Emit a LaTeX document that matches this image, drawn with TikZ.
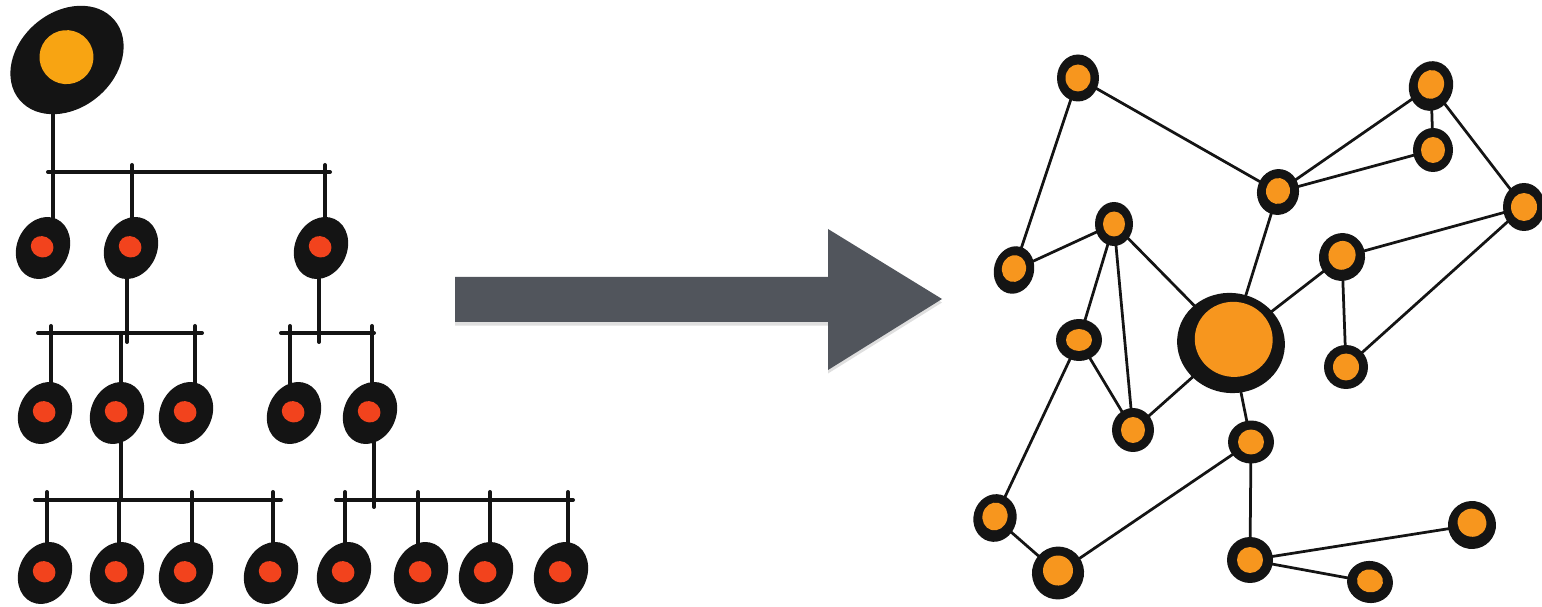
\documentclass[tikz,border=0pt]{standalone}
\usetikzlibrary{shapes.geometric,backgrounds,shadows}
\definecolor{orng}{HTML}{F7961E}
\definecolor{rootor}{HTML}{F8A412}
\definecolor{redc}{HTML}{F2431D}
\definecolor{arrowc}{HTML}{51555C}
\definecolor{ink}{HTML}{141414}
\begin{document}
\begin{tikzpicture}[x=0.02cm,y=-0.02cm,
  tree/.style={ink,line width=0.08cm,line cap=round},
  net/.style={ink,line width=0.055cm,line cap=round},
  treenode/.style={ellipse,fill=ink,inner sep=0pt,minimum width=1.04cm,minimum height=1.28cm,rotate=-25,
    path picture={\fill[redc] ([yshift=-0.04cm]path picture bounding box.center) ellipse [x radius=0.23cm,y radius=0.21cm];}},
  rootnode/.style={ellipse,fill=ink,inner sep=0pt,minimum width=2.48cm,minimum height=1.92cm,rotate=40,
    path picture={\fill[rootor] ([xshift=0.02cm,yshift=0.04cm]path picture bounding box.center) circle [radius=0.54cm];}},
  netnode/.style n args={4}{ellipse,fill=ink,inner sep=0pt,minimum width=#1,minimum height=#2,
    path picture={\fill[orng] (path picture bounding box.center) ellipse [x radius=#3,y radius=#4];}},
  sm/.style={netnode={0.84cm}{0.94cm}{0.25cm}{0.27cm}}
]
\useasboundingbox (0,0) rectangle (1542,607);

% ---------------- tree ----------------
\node[rootnode] (root) at (67,60) {};
\node[treenode] (n11) at (43,248) {};
\node[treenode] (n12) at (131,248) {};
\node[treenode] (n13) at (321,248) {};
\node[treenode] (n21) at (45,413) {};
\node[treenode] (n22) at (117,413) {};
\node[treenode] (n23) at (186,413) {};
\node[treenode] (n24) at (294,413) {};
\node[treenode] (n25) at (370,413) {};
\node[treenode] (n31) at (45,573) {};
\node[treenode] (n32) at (117,573) {};
\node[treenode] (n33) at (186,573) {};
\node[treenode] (n34) at (271,573) {};
\node[treenode] (n35) at (344,573) {};
\node[treenode] (n36) at (421,573) {};
\node[treenode] (n37) at (486,573) {};
\node[treenode] (n38) at (561,573) {};

% bar end points and drops
\coordinate (b1l) at (48,172);  \coordinate (b1r) at (330,172);
\coordinate (d11) at (53,100);  \coordinate (d12) at (132,165); \coordinate (d13) at (325,165);
\coordinate (b2al) at (38,333); \coordinate (b2ar) at (202,333);
\coordinate (u12) at (127,342);
\coordinate (d21) at (51,326);  \coordinate (d22) at (121,333); \coordinate (d23) at (195,326);
\coordinate (b2bl) at (281,333); \coordinate (b2br) at (374,333);
\coordinate (u13) at (319,342);
\coordinate (d24) at (290,326); \coordinate (d25) at (372,326);
\coordinate (b3al) at (35,500); \coordinate (b3ar) at (281,500);
\coordinate (u22) at (121,500);
\coordinate (d31) at (47,492); \coordinate (d32) at (119,500); \coordinate (d33) at (192,492); \coordinate (d34) at (273,492);
\coordinate (b3bl) at (336,500); \coordinate (b3br) at (573,500);
\coordinate (u25) at (374,507);
\coordinate (d35) at (345,492); \coordinate (d36) at (418,492); \coordinate (d37) at (490,492); \coordinate (d38) at (568,492);

% ---------------- network ----------------
\node[sm] (A) at (1078,78) {};
\node[netnode={0.88cm}{1.0cm}{0.26cm}{0.29cm},rotate=-15] (B) at (1431,86) {};
\node[netnode={0.8cm}{0.88cm}{0.24cm}{0.26cm}] (C) at (1433,150) {};
\node[netnode={0.84cm}{0.92cm}{0.24cm}{0.26cm},rotate=-10] (D) at (1278,192) {};
\node[netnode={0.84cm}{0.96cm}{0.26cm}{0.28cm}] (E) at (1524,207) {};
\node[netnode={0.76cm}{0.88cm}{0.22cm}{0.25cm}] (F) at (1114,224) {};
\node[netnode={0.8cm}{0.96cm}{0.24cm}{0.27cm},rotate=-15] (G) at (1014,270) {};
\node[netnode={0.92cm}{0.96cm}{0.27cm}{0.29cm},rotate=-15] (H) at (1342,257) {};
\node[netnode={0.92cm}{0.84cm}{0.26cm}{0.22cm}] (I) at (1079,340) {};
\node[netnode={0.84cm}{0.88cm}{0.24cm}{0.26cm}] (J) at (1133,430) {};
\node[netnode={0.88cm}{0.88cm}{0.26cm}{0.27cm}] (K) at (1346,367) {};
\node[netnode={0.92cm}{0.86cm}{0.26cm}{0.25cm}] (L) at (1251,442) {};
\node[netnode={0.86cm}{0.96cm}{0.25cm}{0.28cm},rotate=-15] (M) at (995,518) {};
\node[netnode={1.04cm}{1.06cm}{0.3cm}{0.3cm},rotate=-20] (N) at (1058,573) {};
\node[netnode={0.92cm}{0.92cm}{0.26cm}{0.26cm}] (O) at (1250,560) {};
\node[netnode={0.96cm}{0.96cm}{0.29cm}{0.28cm},rotate=-20] (P) at (1472,525) {};
\node[netnode={0.92cm}{0.84cm}{0.26cm}{0.23cm},rotate=-10] (Q) at (1370,582) {};
\node[ellipse,fill=ink,inner sep=0pt,minimum width=2.16cm,minimum height=2.0cm,rotate=-10,
  path picture={\fill[orng] ([xshift=0.05cm,yshift=0.03cm]path picture bounding box.center) ellipse [x radius=0.78cm,y radius=0.75cm];}] (Big) at (1231,343) {};

% ---------------- connectors (behind nodes) ----------------
\begin{pgfonlayer}{background}
  % tree
  \draw[tree] (b1l) -- (b1r);
  \draw[tree] (d11) -- (d11 |- n11.center);
  \draw[tree] (d12) -- (d12 |- n12.center);
  \draw[tree] (d13) -- (d13 |- n13.center);
  \draw[tree] (b2al) -- (b2ar);
  \draw[tree] (u12) -- (u12 |- n12.center);
  \draw[tree] (d21) -- (d21 |- n21.center);
  \draw[tree] (d22) -- (d22 |- n22.center);
  \draw[tree] (d23) -- (d23 |- n23.center);
  \draw[tree] (b2bl) -- (b2br);
  \draw[tree] (u13) -- (u13 |- n13.center);
  \draw[tree] (d24) -- (d24 |- n24.center);
  \draw[tree] (d25) -- (d25 |- n25.center);
  \draw[tree] (b3al) -- (b3ar);
  \draw[tree] (u22) -- (u22 |- n22.center);
  \draw[tree] (d31) -- (d31 |- n31.center);
  \draw[tree] (d32) -- (d32 |- n32.center);
  \draw[tree] (d33) -- (d33 |- n33.center);
  \draw[tree] (d34) -- (d34 |- n34.center);
  \draw[tree] (b3bl) -- (b3br);
  \draw[tree] (u25) -- (u25 |- n25.center);
  \draw[tree] (d35) -- (d35 |- n35.center);
  \draw[tree] (d36) -- (d36 |- n36.center);
  \draw[tree] (d37) -- (d37 |- n37.center);
  \draw[tree] (d38) -- (d38 |- n38.center);
  % network
  \draw[net] (A.center) -- (G.center);
  \draw[net] (A.center) -- (D.center);
  \draw[net] (D.center) -- (B.center);
  \draw[net] (D.center) -- (C.center);
  \draw[net] (B.center) -- (C.center);
  \draw[net] (B.center) -- (E.center);
  \draw[net] (D.center) -- (Big.center);
  \draw[net] (F.center) -- (G.center);
  \draw[net] (F.center) -- (I.center);
  \draw[net] (F.center) -- (J.center);
  \draw[net] (F.center) -- (Big.center);
  \draw[net] (H.center) -- (E.center);
  \draw[net] (H.center) -- (Big.center);
  \draw[net] (H.center) -- (K.center);
  \draw[net] (E.center) -- (K.center);
  \draw[net] (I.center) -- (J.center);
  \draw[net] (I.center) -- (M.center);
  \draw[net] (Big.center) -- (J.center);
  \draw[net] (Big.center) -- (L.center);
  \draw[net] (L.center) -- (N.center);
  \draw[net] (M.center) -- (N.center);
  \draw[net] (L.center) -- (O.center);
  \draw[net] (O.center) -- (P.center);
  \draw[net] (O.center) -- (Q.center);
\end{pgfonlayer}

% ---------------- big arrow ----------------
\fill[arrowc,drop shadow={shadow xshift=0pt,shadow yshift=-2pt,opacity=0.25}]
  (455,277) -- (828,277) -- (828,229) -- (942,299) -- (828,370) -- (828,322) -- (455,322) -- cycle;
\end{tikzpicture}
\end{document}
